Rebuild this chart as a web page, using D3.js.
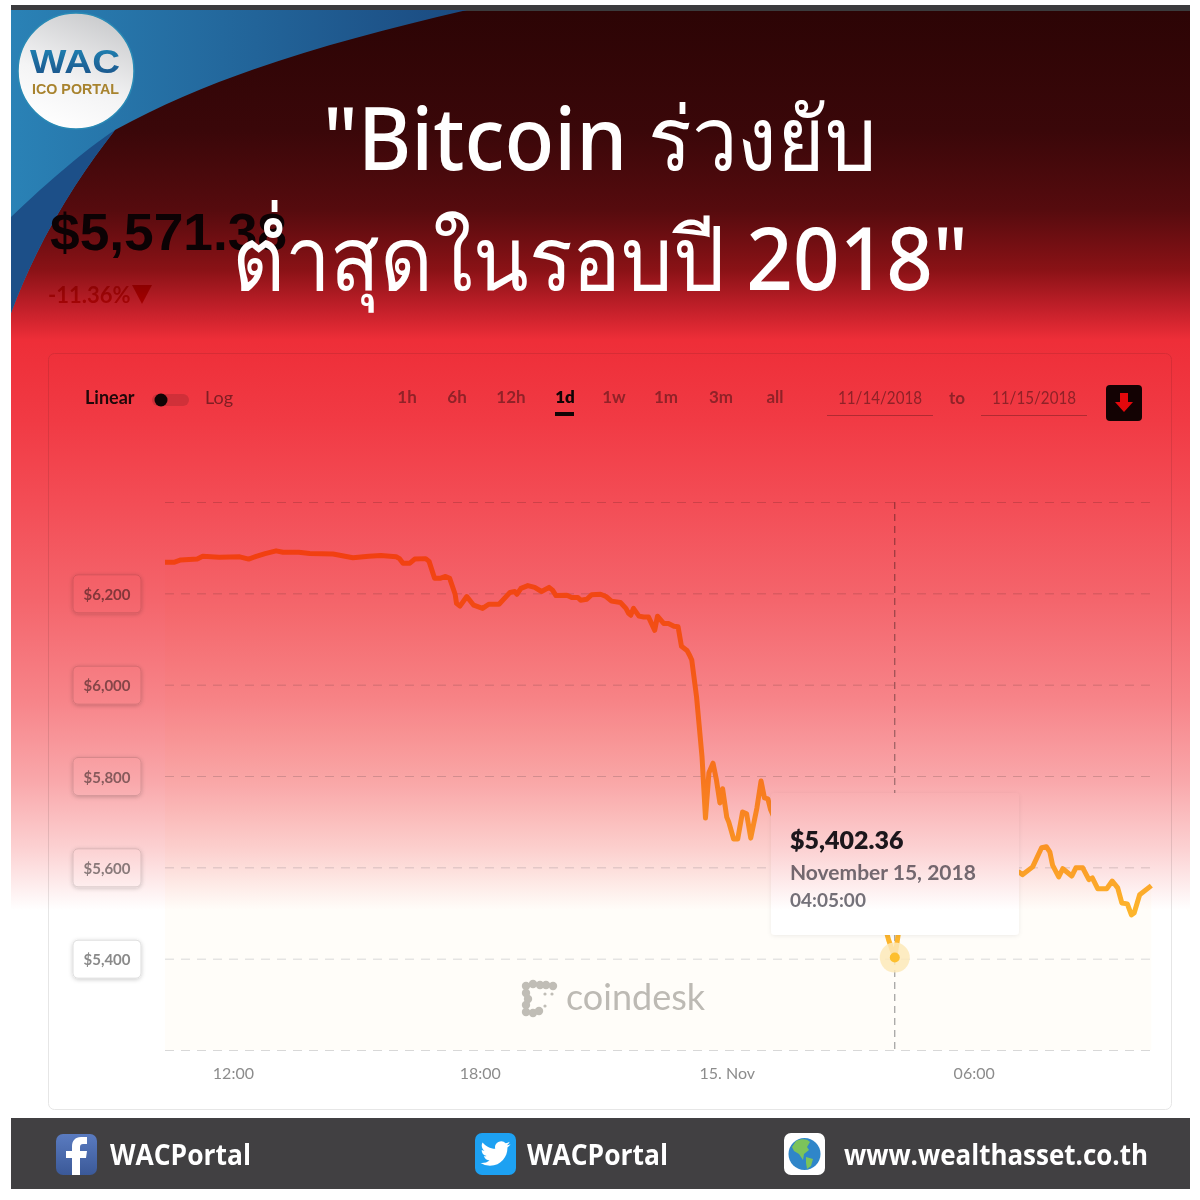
<!DOCTYPE html>
<html>
<head>
<meta charset="utf-8">
<script src="https://cdn.jsdelivr.net/npm/d3@7"></script>
<style>
  html, body { margin: 0; padding: 0; background: #fff; }
  svg { display: block; }
</style>
</head>
<body>
<div id="chart"></div>
<script>
// minutes since 14 Nov 00:00, price in USD
const minutes = [621, 634, 644, 668, 676, 700, 730, 743, 754, 767, 783, 793, 816, 832, 866, 895, 918, 936, 958, 963, 968, 978, 985, 1001, 1006, 1014, 1022, 1030, 1036, 1044, 1046, 1051, 1061, 1071, 1084, 1093, 1108, 1124, 1131, 1134, 1140, 1150, 1160, 1170, 1181, 1186, 1191, 1207, 1214, 1223, 1227, 1236, 1243, 1256, 1264, 1272, 1285, 1293, 1297, 1300, 1304, 1312, 1319, 1326, 1335, 1339, 1348, 1355, 1363, 1369, 1374, 1382, 1386, 1389, 1396, 1404, 1409, 1414, 1420, 1425, 1430, 1434, 1440, 1443, 1450, 1456, 1463, 1469, 1475, 1484, 1490, 1495, 1500, 1504, 1517, 1546, 1590, 1634, 1670, 1676, 1685, 1691, 1721, 1780, 1838, 1866, 1871, 1886, 1899, 1906, 1911, 1915, 1924, 1930, 1943, 1949, 1959, 1968, 1973, 1981, 1994, 2002, 2010, 2016, 2024, 2030, 2034, 2042, 2059]
const prices = [6268, 6268, 6273, 6275, 6281, 6279, 6280, 6275, 6281, 6287, 6293, 6290, 6290, 6287, 6286, 6278, 6281, 6283, 6280, 6276, 6266, 6266, 6275, 6276, 6270, 6233, 6233, 6237, 6233, 6198, 6178, 6172, 6193, 6174, 6167, 6176, 6176, 6202, 6204, 6198, 6211, 6217, 6213, 6204, 6213, 6207, 6195, 6196, 6191, 6191, 6185, 6187, 6197, 6198, 6193, 6183, 6180, 6167, 6156, 6152, 6167, 6150, 6148, 6148, 6119, 6150, 6134, 6134, 6128, 6127, 6084, 6075, 6064, 6054, 5973, 5841, 5708, 5807, 5828, 5791, 5741, 5772, 5710, 5699, 5662, 5662, 5721, 5717, 5664, 5730, 5789, 5752, 5750, 5726, 5682, 5638, 5616, 5551, 5474, 5441, 5402, 5463, 5529, 5573, 5584, 5590, 5584, 5601, 5643, 5645, 5634, 5605, 5579, 5597, 5581, 5599, 5599, 5573, 5577, 5553, 5553, 5570, 5555, 5522, 5520, 5496, 5500, 5540, 5560]

const gridPrices = [6400, 6200, 6000, 5800, 5600, 5400, 5200]
const priceLabels = [6200, 6000, 5800, 5600, 5400]
const timeTicks = [720, 1080, 1440, 1800]
const timeLabels = ['12:00', '18:00', '15. Nov', '06:00']
const ranges = ['1h', '6h', '12h', '1d', '1w', '1m', '3m', 'all']
const rangeX = [407, 457, 511, 565, 614, 666, 721, 775]
const hoverMinute = 1685
const hoverPrice = 5402.36

const svg = d3.select('#chart').append('svg')
  .attr('width', 1200)
  .attr('height', 1200)
  .attr('font-family', 'Lato, "Noto Sans", sans-serif')

const defs = svg.append('defs')

// the red wash is multiplied over the whole screenshot
const wash = defs.append('linearGradient')
  .attr('id', 'wash')
  .attr('x1', 0).attr('x2', 0).attr('y1', 0).attr('y2', 1)
const washStops = [
  [10, '#2c0405'], [130, '#3a0709'], [210, '#560b0e'], [270, '#8a1216'], [310, '#c4202a'], [340, '#ee2e38'],
  [420, '#f13a44'], [500, '#f34c55'], [600, '#f4656c'], [700, '#f78489'], [780, '#f9a7aa'], [850, '#fcd2d3'], [910, '#ffffff']
]
wash.selectAll('stop').data(washStops).join('stop')
  .attr('offset', d => (d[0] - 10) / 900)
  .attr('stop-color', d => d[1])

const blue = defs.append('linearGradient').attr('id', 'blue')
  .attr('x1', 0).attr('x2', 1).attr('y1', 0).attr('y2', 0)
blue.append('stop').attr('offset', 0).attr('stop-color', '#2a82b6')
blue.append('stop').attr('offset', 1).attr('stop-color', '#1b4a80')

const logoFill = defs.append('linearGradient').attr('id', 'logoFill')
  .attr('x1', 0.7).attr('x2', 0.3).attr('y1', 0).attr('y2', 1)
logoFill.append('stop').attr('offset', 0).attr('stop-color', '#c9cacc')
logoFill.append('stop').attr('offset', 0.6).attr('stop-color', '#f4f4f5')
logoFill.append('stop').attr('offset', 1).attr('stop-color', '#ffffff')

const wacFill = defs.append('linearGradient').attr('id', 'wacFill')
  .attr('x1', 0).attr('x2', 0).attr('y1', 0).attr('y2', 1)
wacFill.append('stop').attr('offset', 0).attr('stop-color', '#1f88b8')
wacFill.append('stop').attr('offset', 1).attr('stop-color', '#1b4f86')

const fbFill = defs.append('linearGradient').attr('id', 'fbFill')
  .attr('x1', 0).attr('x2', 0).attr('y1', 0).attr('y2', 1)
fbFill.append('stop').attr('offset', 0).attr('stop-color', '#5a7bc0')
fbFill.append('stop').attr('offset', 1).attr('stop-color', '#3b5998')

const shadow = defs.append('filter').attr('id', 'shadow')
  .attr('x', '-20%').attr('y', '-20%').attr('width', '140%').attr('height', '140%')
shadow.append('feDropShadow')
  .attr('dx', 0).attr('dy', 1).attr('stdDeviation', 2)
  .attr('flood-color', '#000').attr('flood-opacity', 0.2)

const softShadow = defs.append('filter').attr('id', 'softShadow')
  .attr('x', '-10%').attr('y', '-10%').attr('width', '120%').attr('height', '120%')
softShadow.append('feDropShadow')
  .attr('dx', 0).attr('dy', 1).attr('stdDeviation', 2)
  .attr('flood-color', '#000').attr('flood-opacity', 0.07)

// card
svg.append('rect')
  .attr('x', 48.5).attr('y', 353.5)
  .attr('width', 1123).attr('height', 756).attr('rx', 6)
  .attr('fill', '#fff').attr('stroke', '#e6e6e6')

// scales
const x = d3.scaleLinear().domain([621, 2060]).range([165, 1152])
const y = d3.scaleLinear().domain([5200, 6400]).range([1050, 502])

// controls row
svg.append('text').attr('x', 85).attr('y', 404)
  .attr('font-size', 18).attr('font-weight', 700).attr('fill', '#222').text('Linear')
svg.append('rect').attr('x', 152).attr('y', 394).attr('width', 37).attr('height', 12).attr('rx', 6).attr('fill', '#ddd')
svg.append('circle').attr('cx', 161).attr('cy', 400).attr('r', 6.5).attr('fill', '#111')
svg.append('text').attr('x', 205).attr('y', 404)
  .attr('font-size', 18).attr('fill', '#888').text('Log')

svg.append('g').selectAll('text').data(ranges).join('text')
  .attr('x', (d, i) => rangeX[i])
  .attr('y', 403)
  .attr('text-anchor', 'middle')
  .attr('font-size', 17)
  .attr('font-weight', d => d === '1d' ? 800 : 700)
  .attr('fill', d => d === '1d' ? '#111' : '#9a9a9a')
  .text(d => d)
svg.append('rect').attr('x', 555).attr('y', 412).attr('width', 19).attr('height', 4).attr('fill', '#111')

const dateBoxes = [[838, 827, '11/14/2018'], [992, 981, '11/15/2018']]
dateBoxes.forEach(d => {
  svg.append('text').attr('x', d[0]).attr('y', 404)
    .attr('textLength', 84).attr('lengthAdjust', 'spacingAndGlyphs')
    .attr('font-size', 18).attr('fill', '#999').text(d[2])
  svg.append('rect').attr('x', d[1]).attr('y', 415).attr('width', 106).attr('height', 1).attr('fill', '#bbb')
})
svg.append('text').attr('x', 957).attr('y', 404).attr('text-anchor', 'middle')
  .attr('font-size', 17).attr('font-weight', 700).attr('fill', '#999').text('to')

svg.append('rect').attr('x', 1106).attr('y', 385).attr('width', 36).attr('height', 36).attr('rx', 4).attr('fill', '#14090a')
svg.append('path').attr('d', 'M1120 393h8v9h5l-9 10-9-10h5z').attr('fill', '#f2232e')

// area under the line
const area = d3.area()
  .x((d, i) => x(minutes[i]))
  .y0(y(5200))
  .y1((d, i) => y(prices[i]))
svg.append('path').datum(prices).attr('d', area).attr('fill', '#fffdf9')

// grid
const grid = d3.axisLeft(y)
  .tickValues(gridPrices)
  .tickSize(-(1150 - 165))
  .tickFormat('')
svg.append('g')
  .attr('transform', 'translate(165,0)')
  .call(grid)
  .call(g => g.select('.domain').remove())
  .call(g => g.selectAll('.tick line')
    .attr('stroke', '#d8d8d8')
    .attr('stroke-dasharray', '9 7'))

// crosshair
svg.append('line')
  .attr('x1', x(hoverMinute)).attr('x2', x(hoverMinute))
  .attr('y1', y(6400)).attr('y2', y(5200))
  .attr('stroke', '#8a8a8a').attr('stroke-dasharray', '7 5')

// price labels
const tag = svg.append('g').selectAll('g').data(priceLabels).join('g')
  .attr('transform', d => `translate(73,${y(d) - 18.5})`)
tag.append('rect')
  .attr('width', 68).attr('height', 38).attr('rx', 5)
  .attr('fill', '#fff').attr('stroke', '#ddd').attr('filter', 'url(#shadow)')
tag.append('text')
  .attr('x', 34).attr('y', 25).attr('text-anchor', 'middle')
  .attr('font-size', 15).attr('font-weight', 700).attr('fill', '#8a8a8a')
  .text(d => '$' + d3.format(',')(d))

// x axis
const xAxis = d3.axisBottom(x)
  .tickValues(timeTicks)
  .tickSize(0)
  .tickPadding(18)
  .tickFormat((d, i) => timeLabels[i])
svg.append('g')
  .attr('transform', `translate(0,${y(5200)})`)
  .call(xAxis)
  .call(g => g.select('.domain').remove())
  .call(g => g.selectAll('text')
    .attr('font-family', 'Lato, sans-serif')
    .attr('font-size', 16)
    .attr('fill', '#8c8c8c'))

// coindesk mark
const markDots = [[526, 986], [533, 984], [540, 985], [546, 985], [553, 986], [526, 993], [528, 999], [526, 1005], [526, 1012], [533, 1013], [539, 1011], [545, 994], [552, 994], [545, 1006]]
svg.append('g').selectAll('circle').data(markDots).join('circle')
  .attr('cx', d => d[0]).attr('cy', d => d[1])
  .attr('r', (d, i) => i > 10 ? 1.6 : 4.2)
  .attr('fill', '#c0bdb6')
svg.append('text').attr('x', 566).attr('y', 1010)
  .attr('font-size', 36).attr('font-weight', 400).attr('fill', '#bdbab4').text('coindesk')

// price line
const line = d3.line()
  .x((d, i) => x(minutes[i]))
  .y((d, i) => y(prices[i]))
svg.append('path').datum(prices)
  .attr('d', line)
  .attr('fill', 'none')
  .attr('stroke', '#fdb52c')
  .attr('stroke-width', 5)
  .attr('stroke-linejoin', 'round')

// hover marker
svg.append('circle').attr('cx', x(hoverMinute)).attr('cy', y(hoverPrice)).attr('r', 15)
  .attr('fill', '#fde9b8').attr('opacity', 0.85)
svg.append('circle').attr('cx', x(hoverMinute)).attr('cy', y(hoverPrice)).attr('r', 5)
  .attr('fill', '#fdbf2d')

// tooltip
svg.append('rect').attr('x', 771).attr('y', 793).attr('width', 248).attr('height', 142).attr('rx', 4)
  .attr('fill', '#fff').attr('filter', 'url(#softShadow)')
svg.append('text').attr('x', 790).attr('y', 849)
  .attr('font-size', 25).attr('font-weight', 800).attr('fill', '#1c1c22')
  .text('$' + d3.format(',.2f')(hoverPrice))
svg.append('text').attr('x', 790).attr('y', 880)
  .attr('font-size', 21).attr('font-weight', 700).attr('fill', '#74747c').text('November 15, 2018')
svg.append('text').attr('x', 790).attr('y', 907)
  .attr('font-size', 19).attr('font-weight', 700).attr('fill', '#74747c').text('04:05:00')

// change figure sits on the white of the screenshot
svg.append('text').attr('x', 48).attr('y', 303)
  .attr('font-size', 22).attr('font-weight', 700).attr('fill', '#e02020').text('-11.36%')
svg.append('path').attr('d', 'M132 285h20l-10 19z').attr('fill', '#e00000')

// red wash
svg.append('rect')
  .attr('x', 11).attr('y', 10).attr('width', 1179).attr('height', 900)
  .attr('fill', 'url(#wash)')
  .style('mix-blend-mode', 'multiply')

// top rule
svg.append('rect').attr('x', 11).attr('y', 5).attr('width', 1179).attr('height', 6).attr('fill', '#3b3b3d')

// corner swoosh
svg.append('path')
  .attr('d', 'M11 10H467C330 42 215 75 115 130C80 175 40 235 11 313Z')
  .attr('fill', 'url(#blue)')
svg.append('path')
  .attr('d', 'M11 217C50 180 85 150 115 130C80 175 40 235 11 313Z')
  .attr('fill', '#1c4f88')

svg.append('text').attr('x', 50).attr('y', 250)
  .attr('font-family', '"Liberation Sans", sans-serif')
  .attr('textLength', 237).attr('lengthAdjust', 'spacingAndGlyphs')
  .attr('font-size', 51).attr('font-weight', 700).attr('fill', '#0c0204').text('$5,571.38')

// logo
svg.append('circle').attr('cx', 76).attr('cy', 71).attr('r', 58)
  .attr('fill', 'url(#logoFill)').attr('stroke', '#2a8ab5').attr('stroke-width', 1.5)
svg.append('text').attr('x', 30).attr('y', 73)
  .attr('font-family', '"Liberation Sans", sans-serif')
  .attr('textLength', 90).attr('lengthAdjust', 'spacingAndGlyphs')
  .attr('font-size', 33).attr('font-weight', 700).attr('fill', 'url(#wacFill)').text('WAC')
svg.append('text').attr('x', 32).attr('y', 94)
  .attr('font-family', '"Liberation Sans", sans-serif')
  .attr('textLength', 87).attr('lengthAdjust', 'spacingAndGlyphs')
  .attr('font-size', 15).attr('font-weight', 700).attr('fill', '#a8832e').text('ICO PORTAL')

// headline
const titleLines = [['"Bitcoin ร่วงยับ', 170, 323, 554], ['ต่ำสุดในรอบปี 2018"', 290, 232, 736]]
titleLines.forEach(d => {
  svg.append('text').attr('x', d[2]).attr('y', d[1])
    .attr('textLength', d[3]).attr('lengthAdjust', 'spacingAndGlyphs')
    .attr('font-family', '"Noto Sans", "DejaVu Sans", sans-serif')
    .attr('font-size', 88).attr('font-weight', 500).attr('fill', '#fff').text(d[0])
})

// footer
svg.append('rect').attr('x', 11).attr('y', 1118).attr('width', 1179).attr('height', 71).attr('fill', '#414042')

const footerText = [[110, 'WACPortal', 141], [527, 'WACPortal', 141], [844, 'www.wealthasset.co.th', 304]]
svg.append('g').selectAll('text').data(footerText).join('text')
  .attr('x', d => d[0]).attr('y', 1165)
  .attr('textLength', d => d[2]).attr('lengthAdjust', 'spacingAndGlyphs')
  .attr('font-family', '"Open Sans", sans-serif')
  .attr('font-size', 28).attr('font-weight', 700).attr('fill', '#fff')
  .text(d => d[1])

svg.append('rect').attr('x', 56).attr('y', 1134).attr('width', 41).attr('height', 41).attr('rx', 7).attr('fill', 'url(#fbFill)')
svg.append('path')
  .attr('d', 'M80 1175v-17h6l1-7h-7v-4c0-2 1-3 3-3h4v-7h-6c-6 0-9 4-9 9v5h-6v7h6v17z')
  .attr('fill', '#fff')

svg.append('rect').attr('x', 475).attr('y', 1133).attr('width', 41).attr('height', 42).attr('rx', 7).attr('fill', '#1da1f2')
svg.append('path')
  .attr('transform', 'translate(480.5,1138.5) scale(1.25)')
  .attr('d', 'M23.953 4.57a10 10 0 01-2.825.775 4.958 4.958 0 002.163-2.723c-.951.555-2.005.959-3.127 1.184a4.92 4.92 0 00-8.384 4.482C7.69 8.095 4.067 6.13 1.64 3.162a4.822 4.822 0 00-.666 2.475c0 1.71.87 3.213 2.188 4.096a4.904 4.904 0 01-2.228-.616v.06a4.923 4.923 0 003.946 4.827 4.996 4.996 0 01-2.212.085 4.936 4.936 0 004.604 3.417 9.867 9.867 0 01-6.102 2.105c-.39 0-.779-.023-1.17-.067a13.995 13.995 0 007.557 2.209c9.053 0 13.998-7.496 13.998-13.985 0-.21 0-.42-.015-.63A9.935 9.935 0 0024 4.59z')
  .attr('fill', '#fff')

svg.append('rect').attr('x', 784).attr('y', 1133).attr('width', 41).attr('height', 42).attr('rx', 7).attr('fill', '#fff')
svg.append('circle').attr('cx', 804.5).attr('cy', 1154).attr('r', 16).attr('fill', '#2f86c9')
svg.append('path').attr('d', 'M796 1141c6-3 12-2 14 1l-3 5 2 3-5 4-1 6-4-6-5-3-2-4z').attr('fill', '#7cc35a')
svg.append('path').attr('d', 'M806 1157l7 2-2 7-4 3-1-6z').attr('fill', '#7cc35a')
</script>
</body>
</html>
